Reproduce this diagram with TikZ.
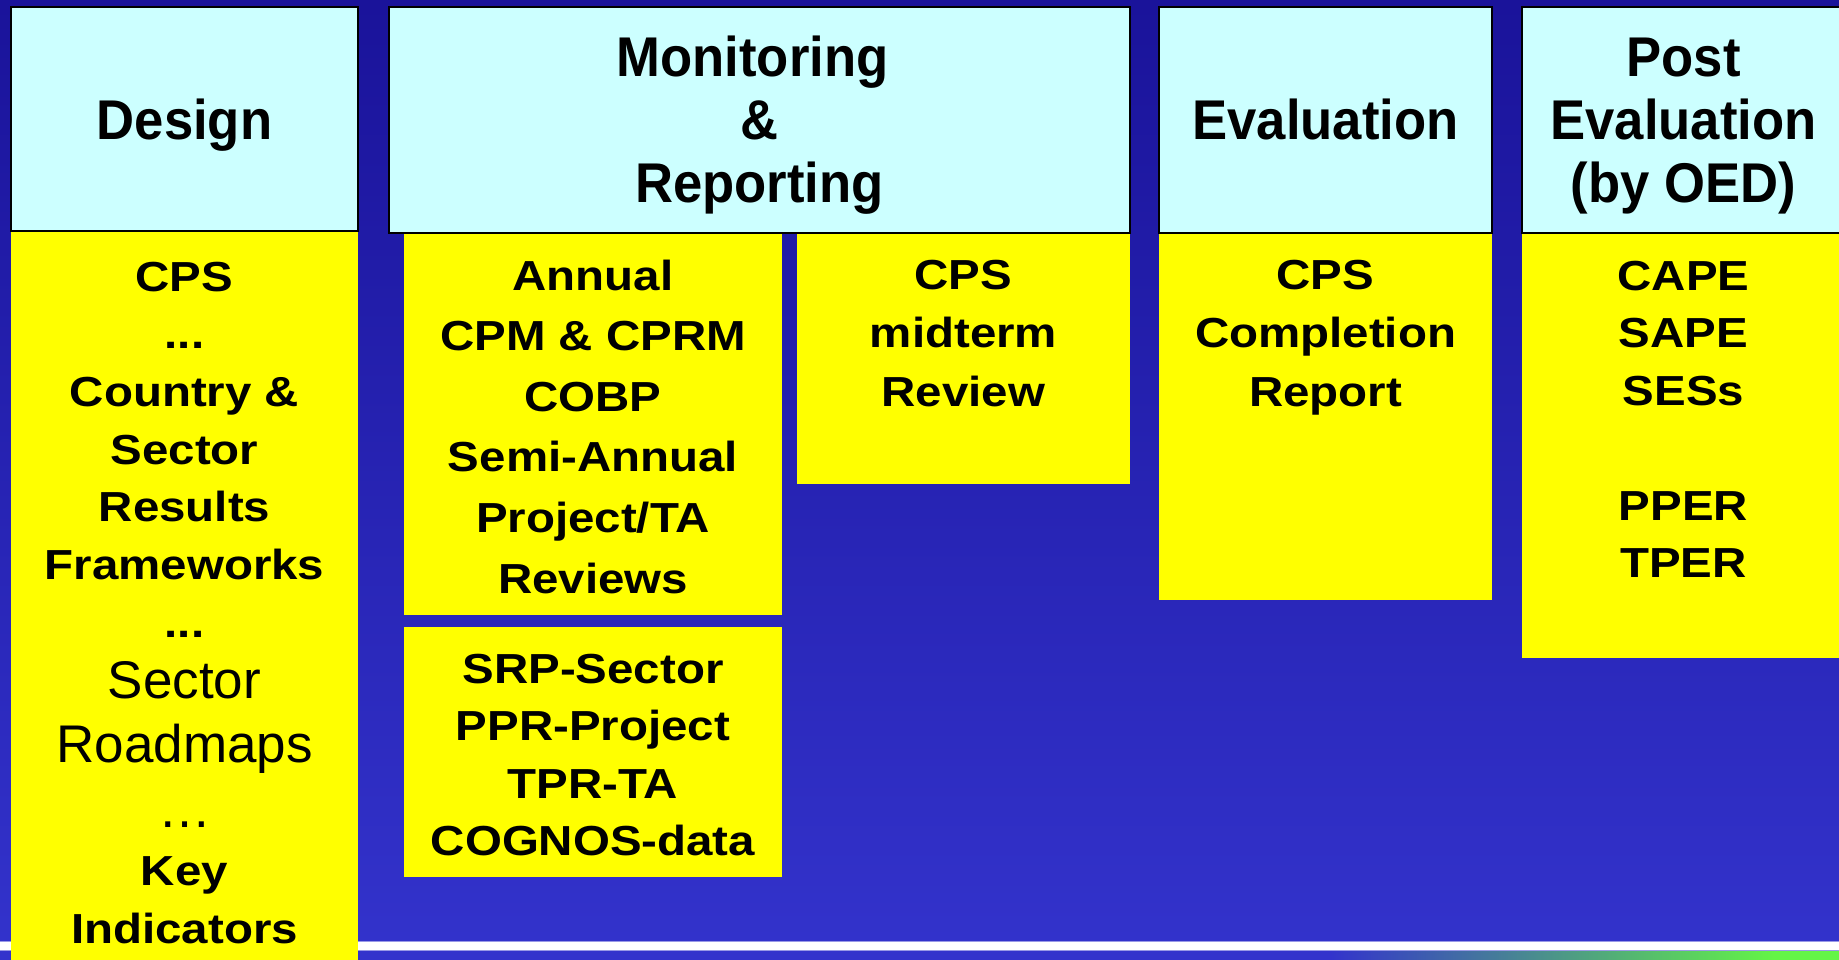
\documentclass[tikz,border=0pt]{standalone}
\usepackage{fontspec}
\setmainfont{Liberation Sans}
\newfontfamily\headfont[FakeStretch=0.94]{Liberation Sans}
\newfontfamily\itemfont[FakeStretch=1.13]{Liberation Sans}
\usetikzlibrary{positioning}
\definecolor{bgtop}{RGB}{26,19,154}
\definecolor{bgbot}{RGB}{51,51,204}
\definecolor{headcyan}{RGB}{204,255,255}
\definecolor{paneyellow}{RGB}{255,255,0}
\definecolor{stripgreen}{RGB}{100,245,70}
\newcommand{\lift}[1]{\rule{0pt}{#1}}

\begin{document}
\begin{tikzpicture}[x=1pt,y=-1pt,
  phase/.style={draw=black,line width=2pt,fill=headcyan,inner sep=0pt},
  pane/.style={fill=paneyellow,inner sep=0pt},
  phasetitle/.style={font=\headfont\bfseries\fontsize{56}{63}\selectfont,align=center,inner sep=0pt},
  entry/.style={font=\itemfont\bfseries\fontsize{42}{#1}\selectfont,align=center,inner sep=0pt},
  entry/.default=58,
  note/.style={font=\fontsize{53}{64.5}\selectfont,align=center,inner sep=0pt}]
  \clip (0,0) rectangle (1839,960);
  \shade[top color=bgtop,bottom color=bgbot] (0,0) rectangle (1839,960);
  % bottom rule and strip
  \fill[white] (0,942) rectangle (1839,950);
  \draw[line width=1pt,color=bgbot!50!white] (0,941.5) -- (1839,941.5);
  \draw[line width=1pt,color=bgbot!50!white] (0,950.5) -- (1839,950.5);
  \shade[left color=bgbot,right color=stripgreen] (1330,951) rectangle (1775,960);
  \fill[stripgreen] (1775,951) rectangle (1839,960);

  % yellow panes
  \node[pane,minimum width=347pt,minimum height=734pt] (designbox) at (184.5,598) {};
  \node[pane,minimum width=378pt,minimum height=382pt] (annual) at (593,424) {};
  \node[pane,minimum width=333pt,minimum height=251pt] (midterm) at (963.5,358.5) {};
  \node[pane,minimum width=378pt,minimum height=250pt] (srp) at (593,752) {};
  \node[pane,minimum width=333pt,minimum height=367pt] (evalbox) at (1325.5,416.5) {};
  \node[pane,minimum width=323pt,minimum height=425pt] (postbox) at (1683.5,445.5) {};

  % phase headers
  \node[phase,minimum width=347pt,minimum height=224pt] (designhead) at (184.5,119) {};
  \node[phase,minimum width=741pt,minimum height=226pt] (monhead) at (759.5,120) {};
  \node[phase,minimum width=333pt,minimum height=226pt] (evalhead) at (1325.5,120) {};
  \node[phase,minimum width=323pt,minimum height=226pt] (posthead) at (1683.5,120) {};

  \node[phasetitle,below=83pt of designhead.north] (designtitle) {\lift{50pt}Design};
  \node[phasetitle,below=20pt of monhead.north] (montitle) {\lift{50pt}Monitoring\kern14pt\\\&\\Reporting};
  \node[phasetitle,below=83pt of evalhead.north] (evaltitle) {\lift{50pt}Evaluation};
  \node[phasetitle,below=20pt of posthead.north] (posttitle) {\lift{50pt}Post\\Evaluation\\(by OED)};

  % pane texts
  \node[entry=57.7,below=20pt of designbox.north] (designtop) {\lift{40pt}CPS\\...\\Country \&\\Sector\\Results\\Frameworks\\...};
  \node[note,below=422pt of designbox.north] (designmid) {\lift{45pt}Sector\\Roadmaps\\…};
  \node[entry,below=614pt of designbox.north] (designlow) {\lift{40pt}Key\\Indicators};
  \node[entry=60.6,below=17pt of annual.north] (annualtext) {\lift{40pt}Annual\\CPM \& CPRM\\COBP\\Semi-Annual\\Project/TA\\Reviews};
  \node[entry=58.5,below=16pt of midterm.north] (midtermtext) {\lift{40pt}CPS\\midterm\\Review};
  \node[entry=57.5,below=16pt of srp.north] (srptext) {\lift{40pt}SRP-Sector\\PPR-Project\\TPR-TA\\COGNOS-data};
  \node[entry=58.5,below=16pt of evalbox.north] (evaltext) {\lift{40pt}CPS\\Completion\\Report};
  \node[entry=57.7,below=17pt of postbox.north] (posttext) {\lift{40pt}CAPE\\SAPE\\SESs\\[57pt]PPER\\TPER};
\end{tikzpicture}
\end{document}
